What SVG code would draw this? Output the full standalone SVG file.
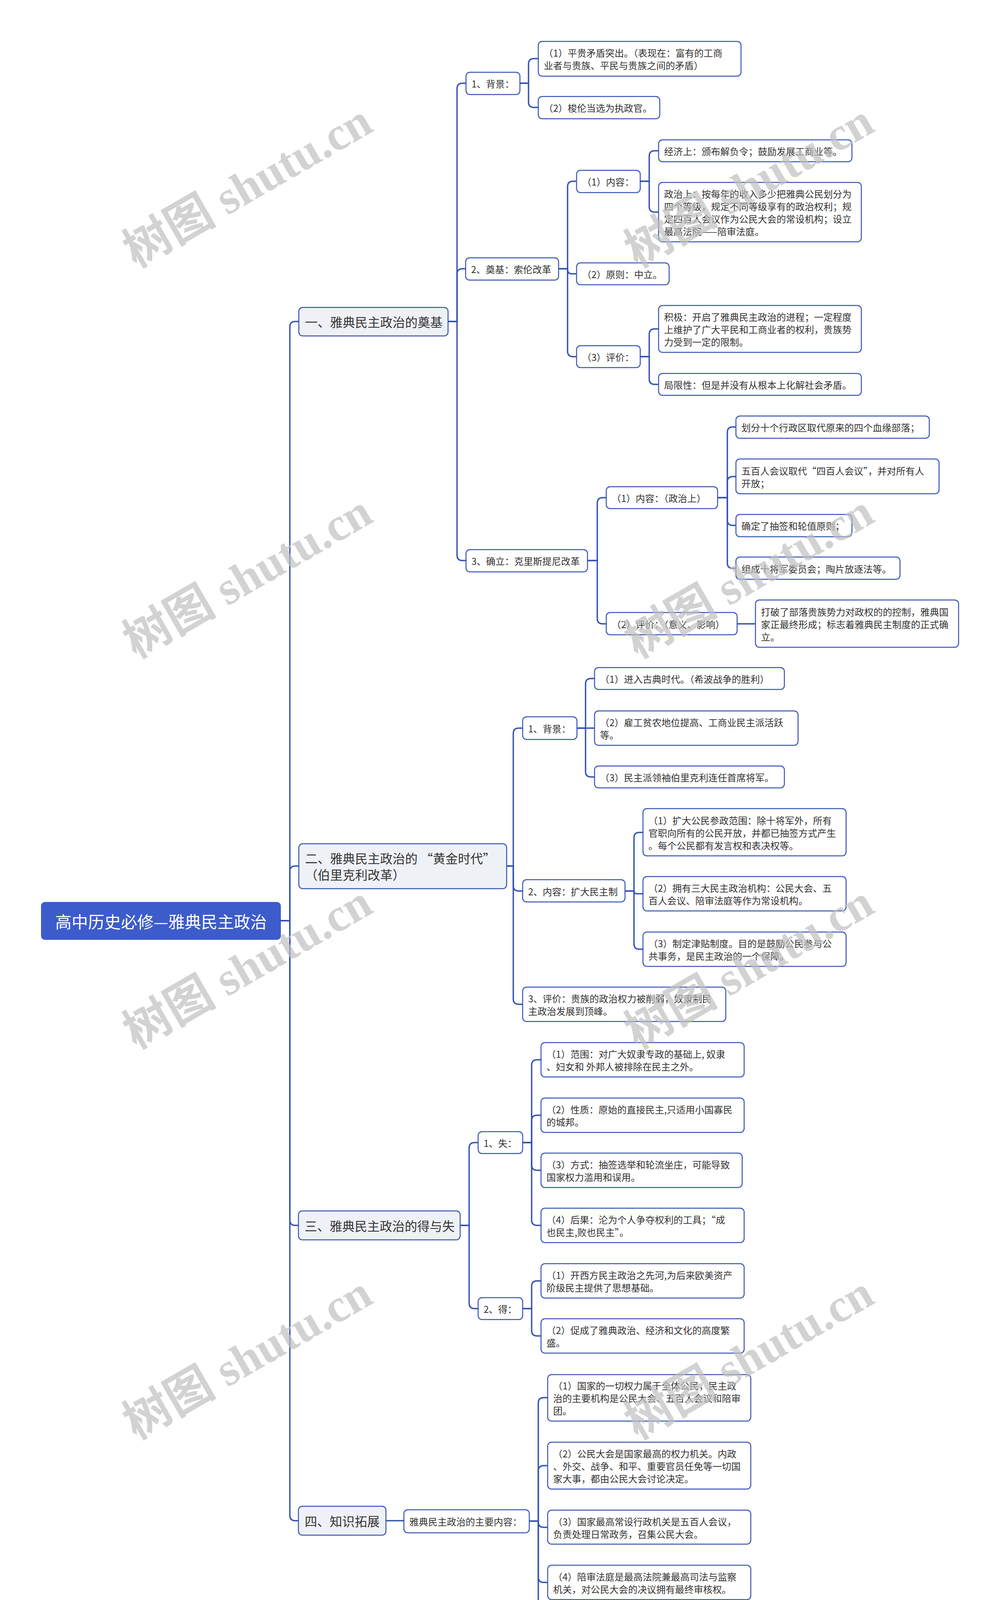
<svg xmlns="http://www.w3.org/2000/svg" width="2560" height="4375" viewBox="0 0 2560 4375">
<style>
.n{fill:#fff;stroke:#3553b5;stroke-width:2.5}
.l1{fill:#eef1f6;stroke:#3553b5;stroke-width:2.5}
.rt{fill:#3d5ccb}
.t{font-family:"Noto Sans CJK SC","Microsoft YaHei",sans-serif;font-size:24px;fill:#333;dominant-baseline:central}
.t1{font-size:32px}
.tr{font-size:42px;fill:#fff}
.e{fill:none;stroke:#3553b5;stroke-width:3.5}
.wm{font-family:"Liberation Serif","Noto Sans CJK SC",serif;font-size:120px;font-weight:bold;fill:#bfbfbf;opacity:0.7}
</style>
<rect width="2560" height="4375" fill="#fff"/>
<g id="connectors">
<path class="e" d="M719 2357 H742 V837 Q742 823 756 823 H765"/>
<path class="e" d="M719 2357 H742 V2231 Q742 2217 756 2217 H765"/>
<path class="e" d="M719 2357 H742 V3123 Q742 3137 756 3137 H765"/>
<path class="e" d="M719 2357 H742 V3879 Q742 3893 756 3893 H765"/>
<path class="e" d="M1147 823 H1170 V227 Q1170 213 1184 213 H1193"/>
<path class="e" d="M1147 823 H1170 V702 Q1170 688 1184 688 H1192"/>
<path class="e" d="M1147 823 H1170 V1421 Q1170 1435 1184 1435 H1193"/>
<path class="e" d="M1331 213 H1353 V164 Q1353 150 1367 150 H1378"/>
<path class="e" d="M1331 213 H1353 V261 Q1353 275 1367 275 H1378"/>
<path class="e" d="M1430 688 H1453 V478 Q1453 464 1467 464 H1476"/>
<path class="e" d="M1430 688 H1453 V690 Q1453 701 1464 701 H1476"/>
<path class="e" d="M1430 688 H1453 V899 Q1453 913 1467 913 H1476"/>
<path class="e" d="M1639 464 H1662 V400 Q1662 386 1676 386 H1686"/>
<path class="e" d="M1639 464 H1662 V529 Q1662 543 1676 543 H1686"/>
<path class="e" d="M1639 913 H1662 V856 Q1662 842 1676 842 H1686"/>
<path class="e" d="M1639 913 H1662 V970 Q1662 984 1676 984 H1686"/>
<path class="e" d="M1504 1435 H1529 V1288 Q1529 1274 1543 1274 H1552"/>
<path class="e" d="M1504 1435 H1529 V1583 Q1529 1597 1543 1597 H1552"/>
<path class="e" d="M1837 1274 H1862 V1107 Q1862 1093 1876 1093 H1884"/>
<path class="e" d="M1837 1274 H1862 V1234 Q1862 1220 1876 1220 H1884"/>
<path class="e" d="M1837 1274 H1862 V1331 Q1862 1345 1876 1345 H1884"/>
<path class="e" d="M1837 1274 H1862 V1441 Q1862 1455 1876 1455 H1884"/>
<path class="e" d="M1887 1597 H1934"/>
<path class="e" d="M1297 2217 H1314 V1878 Q1314 1864 1328 1864 H1338"/>
<path class="e" d="M1297 2217 H1314 V2267 Q1314 2281 1328 2281 H1338"/>
<path class="e" d="M1297 2217 H1314 V2557 Q1314 2571 1328 2571 H1338"/>
<path class="e" d="M1477 1864 H1499 V1751 Q1499 1737 1513 1737 H1522"/>
<path class="e" d="M1477 1864 H1522"/>
<path class="e" d="M1477 1864 H1499 V1975 Q1499 1989 1513 1989 H1522"/>
<path class="e" d="M1600 2281 H1623 V2145 Q1623 2131 1637 2131 H1646"/>
<path class="e" d="M1600 2281 H1623 V2281 Q1623 2288 1630 2288 H1646"/>
<path class="e" d="M1600 2281 H1623 V2416 Q1623 2430 1637 2430 H1646"/>
<path class="e" d="M1178 3137 H1201 V2939 Q1201 2925 1215 2925 H1224"/>
<path class="e" d="M1178 3137 H1201 V3336 Q1201 3350 1215 3350 H1224"/>
<path class="e" d="M1338 2925 H1361 V2727 Q1361 2713 1375 2713 H1385"/>
<path class="e" d="M1338 2925 H1361 V2869 Q1361 2855 1375 2855 H1385"/>
<path class="e" d="M1338 2925 H1361 V2982 Q1361 2996 1375 2996 H1385"/>
<path class="e" d="M1338 2925 H1361 V3123 Q1361 3137 1375 3137 H1385"/>
<path class="e" d="M1338 3350 H1361 V3293 Q1361 3279 1375 3279 H1385"/>
<path class="e" d="M1338 3350 H1361 V3406 Q1361 3420 1375 3420 H1385"/>
<path class="e" d="M988 3893 H1034"/>
<path class="e" d="M1355 3894 H1378 V3592 Q1378 3578 1392 3578 H1402"/>
<path class="e" d="M1355 3894 H1378 V3766 Q1378 3752 1392 3752 H1402"/>
<path class="e" d="M1355 3894 H1378 V3896 Q1378 3910 1392 3910 H1402"/>
<path class="e" d="M1355 3894 H1378 V4037 Q1378 4051 1392 4051 H1402"/>
<path class="e" d="M1355 3894 H1378 V4194 Q1378 4208 1392 4208 H1402"/>
</g>
<g id="root"><rect class="rt" x="105" y="2309" width="614" height="97" rx="10"/><text class="t tr" x="412" y="2357" text-anchor="middle">高中历史必修—雅典民主政治</text></g>

<g id="n1"><rect class="l1" x="765" y="787" width="382" height="73" rx="10"/><text class="t t1" x="781" y="823">一、雅典民主政治的奠基</text></g>
<g id="n1_1"><rect class="n" x="1193" y="185" width="138" height="57" rx="10"/><text class="t" x="1207" y="213">1、背景：</text></g>
<g id="n1_1_1"><rect class="n" x="1378" y="106" width="519" height="89" rx="10"/><text class="t" x="1392" y="134">（1）平贵矛盾突出。（表现在：富有的工商</text><text class="t" x="1392" y="166">业者与贵族、平民与贵族之间的矛盾）</text></g>
<g id="n1_1_2"><rect class="n" x="1378" y="247" width="311" height="57" rx="10"/><text class="t" x="1392" y="275">（2）梭伦当选为执政官。</text></g>
<g id="n1_2"><rect class="n" x="1192" y="660" width="238" height="57" rx="10"/><text class="t" x="1206" y="688">2、奠基：索伦改革</text></g>
<g id="n1_2_1"><rect class="n" x="1476" y="436" width="163" height="57" rx="10"/><text class="t" x="1490" y="464">（1）内容：</text></g>
<g id="n1_2_1_1"><rect class="n" x="1686" y="358" width="495" height="56" rx="10"/><text class="t" x="1700" y="386">经济上：颁布解负令；鼓励发展工商业等。</text></g>
<g id="n1_2_1_2"><rect class="n" x="1686" y="467" width="519" height="152" rx="10"/><text class="t" x="1700" y="495">政治上：按每年的收入多少把雅典公民划分为</text><text class="t" x="1700" y="527">四个等级，规定不同等级享有的政治权利；规</text><text class="t" x="1700" y="559">定四百人会议作为公民大会的常设机构；设立</text><text class="t" x="1700" y="591">最高法院——陪审法庭。</text></g>
<g id="n1_2_2"><rect class="n" x="1476" y="673" width="237" height="56" rx="10"/><text class="t" x="1490" y="701">（2）原则：中立。</text></g>
<g id="n1_2_3"><rect class="n" x="1476" y="885" width="163" height="56" rx="10"/><text class="t" x="1490" y="913">（3）评价：</text></g>
<g id="n1_2_3_1"><rect class="n" x="1686" y="782" width="519" height="120" rx="10"/><text class="t" x="1700" y="810">积极：开启了雅典民主政治的进程；一定程度</text><text class="t" x="1700" y="842">上维护了广大平民和工商业者的权利，贵族势</text><text class="t" x="1700" y="874">力受到一定的限制。</text></g>
<g id="n1_2_3_2"><rect class="n" x="1686" y="956" width="519" height="56" rx="10"/><text class="t" x="1700" y="984">局限性：但是并没有从根本上化解社会矛盾。</text></g>
<g id="n1_3"><rect class="n" x="1193" y="1407" width="311" height="57" rx="10"/><text class="t" x="1207" y="1435">3、确立：克里斯提尼改革</text></g>
<g id="n1_3_1"><rect class="n" x="1552" y="1246" width="285" height="56" rx="10"/><text class="t" x="1566" y="1274">（1）内容：（政治上）</text></g>
<g id="n1_3_1_1"><rect class="n" x="1884" y="1065" width="495" height="57" rx="10"/><text class="t" x="1898" y="1093">划分十个行政区取代原来的四个血缘部落；</text></g>
<g id="n1_3_1_2"><rect class="n" x="1884" y="1175" width="520" height="89" rx="10"/><text class="t" x="1898" y="1204">五百人会议取代“四百人会议”，并对所有人</text><text class="t" x="1898" y="1236">开放；</text></g>
<g id="n1_3_1_3"><rect class="n" x="1884" y="1317" width="297" height="57" rx="10"/><text class="t" x="1898" y="1345">确定了抽签和轮值原则；</text></g>
<g id="n1_3_1_4"><rect class="n" x="1884" y="1426" width="420" height="57" rx="10"/><text class="t" x="1898" y="1455">组成十将军委员会；陶片放逐法等。</text></g>
<g id="n1_3_2"><rect class="n" x="1552" y="1568" width="335" height="57" rx="10"/><text class="t" x="1566" y="1597">（2）评价：（意义、影响）</text></g>
<g id="n1_3_2_1"><rect class="n" x="1934" y="1536" width="520" height="121" rx="10"/><text class="t" x="1948" y="1565">打破了部落贵族势力对政权的的控制，雅典国</text><text class="t" x="1948" y="1597">家正最终形成；标志着雅典民主制度的正式确</text><text class="t" x="1948" y="1629">立。</text></g>

<g id="n2"><rect class="l1" x="765" y="2160" width="532" height="115" rx="10"/><text class="t t1" x="781" y="2196">二、雅典民主政治的 “黄金时代”</text><text class="t t1" x="781" y="2238">（伯里克利改革）</text></g>
<g id="n2_1"><rect class="n" x="1338" y="1835" width="139" height="58" rx="10"/><text class="t" x="1352" y="1864">1、背景：</text></g>
<g id="n2_1_1"><rect class="n" x="1522" y="1709" width="486" height="56" rx="10"/><text class="t" x="1536" y="1737">（1）进入古典时代。（希波战争的胜利）</text></g>
<g id="n2_1_2"><rect class="n" x="1522" y="1820" width="521" height="88" rx="10"/><text class="t" x="1536" y="1848">（2）雇工贫农地位提高、工商业民主派活跃</text><text class="t" x="1536" y="1880">等。</text></g>
<g id="n2_1_3"><rect class="n" x="1522" y="1961" width="486" height="56" rx="10"/><text class="t" x="1536" y="1989">（3）民主派领袖伯里克利连任首席将军。</text></g>
<g id="n2_2"><rect class="n" x="1338" y="2252" width="262" height="57" rx="10"/><text class="t" x="1352" y="2281">2、内容：扩大民主制</text></g>
<g id="n2_2_1"><rect class="n" x="1646" y="2070" width="520" height="121" rx="10"/><text class="t" x="1660" y="2099">（1）扩大公民参政范围：除十将军外，所有</text><text class="t" x="1660" y="2131">官职向所有的公民开放，并都已抽签方式产生</text><text class="t" x="1660" y="2163">。每个公民都有发言权和表决权等。</text></g>
<g id="n2_2_2"><rect class="n" x="1646" y="2244" width="520" height="88" rx="10"/><text class="t" x="1660" y="2272">（2）拥有三大民主政治机构：公民大会、五</text><text class="t" x="1660" y="2304">百人会议、陪审法庭等作为常设机构。</text></g>
<g id="n2_2_3"><rect class="n" x="1646" y="2386" width="520" height="88" rx="10"/><text class="t" x="1660" y="2414">（3）制定津贴制度。目的是鼓励公民参与公</text><text class="t" x="1660" y="2446">共事务，是民主政治的一个保障。</text></g>
<g id="n2_3"><rect class="n" x="1338" y="2527" width="520" height="88" rx="10"/><text class="t" x="1352" y="2555">3、评价：贵族的政治权力被削弱，奴隶制民</text><text class="t" x="1352" y="2587">主政治发展到顶峰。</text></g>

<g id="n3"><rect class="l1" x="764" y="3100" width="414" height="74" rx="10"/><text class="t t1" x="780" y="3137">三、雅典民主政治的得与失</text></g>
<g id="n3_1"><rect class="n" x="1224" y="2897" width="114" height="56" rx="10"/><text class="t" x="1238" y="2925">1、失：</text></g>
<g id="n3_1_1"><rect class="n" x="1385" y="2669" width="520" height="88" rx="10"/><text class="t" x="1399" y="2697">（1）范围：对广大奴隶专政的基础上, 奴隶</text><text class="t" x="1399" y="2729">、妇女和 外邦人被排除在民主之外。</text></g>
<g id="n3_1_2"><rect class="n" x="1385" y="2811" width="520" height="88" rx="10"/><text class="t" x="1399" y="2839">（2）性质：原始的直接民主,只适用小国寡民</text><text class="t" x="1399" y="2871">的城邦。</text></g>
<g id="n3_1_3"><rect class="n" x="1385" y="2952" width="515" height="88" rx="10"/><text class="t" x="1399" y="2980">（3）方式：抽签选举和轮流坐庄，可能导致</text><text class="t" x="1399" y="3012">国家权力滥用和误用。</text></g>
<g id="n3_1_4"><rect class="n" x="1385" y="3093" width="520" height="88" rx="10"/><text class="t" x="1399" y="3121">（4）后果：沦为个人争夺权利的工具；“成</text><text class="t" x="1399" y="3153">也民主,败也民主”。</text></g>
<g id="n3_2"><rect class="n" x="1224" y="3322" width="114" height="56" rx="10"/><text class="t" x="1238" y="3350">2、得：</text></g>
<g id="n3_2_1"><rect class="n" x="1385" y="3235" width="520" height="88" rx="10"/><text class="t" x="1399" y="3263">（1）开西方民主政治之先河,为后来欧美资产</text><text class="t" x="1399" y="3295">阶级民主提供了思想基础。</text></g>
<g id="n3_2_2"><rect class="n" x="1385" y="3376" width="520" height="88" rx="10"/><text class="t" x="1399" y="3404">（2）促成了雅典政治、经济和文化的高度繁</text><text class="t" x="1399" y="3436">盛。</text></g>

<g id="n4"><rect class="l1" x="764" y="3856" width="224" height="74" rx="10"/><text class="t t1" x="780" y="3893">四、知识拓展</text></g>
<g id="n4_1"><rect class="n" x="1034" y="3865" width="321" height="59" rx="10"/><text class="t" x="1048" y="3894">雅典民主政治的主要内容：</text></g>
<g id="n4_1_1"><rect class="n" x="1402" y="3519" width="520" height="119" rx="10"/><text class="t" x="1416" y="3546">（1）国家的一切权力属于全体公民，民主政</text><text class="t" x="1416" y="3578">治的主要机构是公民大会、五百人会议和陪审</text><text class="t" x="1416" y="3610">团。</text></g>
<g id="n4_1_2"><rect class="n" x="1402" y="3692" width="520" height="120" rx="10"/><text class="t" x="1416" y="3720">（2）公民大会是国家最高的权力机关。内政</text><text class="t" x="1416" y="3752">、外交、战争、和平、重要官员任免等一切国</text><text class="t" x="1416" y="3784">家大事，都由公民大会讨论决定。</text></g>
<g id="n4_1_3"><rect class="n" x="1402" y="3866" width="520" height="87" rx="10"/><text class="t" x="1416" y="3894">（3）国家最高常设行政机关是五百人会议，</text><text class="t" x="1416" y="3926">负责处理日常政务，召集公民大会。</text></g>
<g id="n4_1_4"><rect class="n" x="1402" y="4007" width="520" height="88" rx="10"/><text class="t" x="1416" y="4035">（4）陪审法庭是最高法院兼最高司法与监察</text><text class="t" x="1416" y="4067">机关，对公民大会的决议拥有最终审核权。</text></g>
<g id="n4_1_5"><rect class="n" x="1402" y="4149" width="520" height="119" rx="10"/><text class="t" x="1416" y="4176">（5）国家一切官职，向各等级公民开放，国</text><text class="t" x="1416" y="4208">家官员由选举产生，各级公职人员实行“公职</text><text class="t" x="1416" y="4240">津贴制”。</text></g>

<g id="watermark">
<text class="wm" x="348" y="687" transform="rotate(-30 348 687)">树图 shutu.cn</text>
<text class="wm" x="348" y="1687" transform="rotate(-30 348 1687)">树图 shutu.cn</text>
<text class="wm" x="348" y="2687" transform="rotate(-30 348 2687)">树图 shutu.cn</text>
<text class="wm" x="348" y="3687" transform="rotate(-30 348 3687)">树图 shutu.cn</text>
<text class="wm" x="348" y="4687" transform="rotate(-30 348 4687)">树图 shutu.cn</text>
<text class="wm" x="1632" y="687" transform="rotate(-30 1632 687)">树图 shutu.cn</text>
<text class="wm" x="1632" y="1687" transform="rotate(-30 1632 1687)">树图 shutu.cn</text>
<text class="wm" x="1632" y="2687" transform="rotate(-30 1632 2687)">树图 shutu.cn</text>
<text class="wm" x="1632" y="3687" transform="rotate(-30 1632 3687)">树图 shutu.cn</text>
<text class="wm" x="1632" y="4687" transform="rotate(-30 1632 4687)">树图 shutu.cn</text>
</g>
</svg>
